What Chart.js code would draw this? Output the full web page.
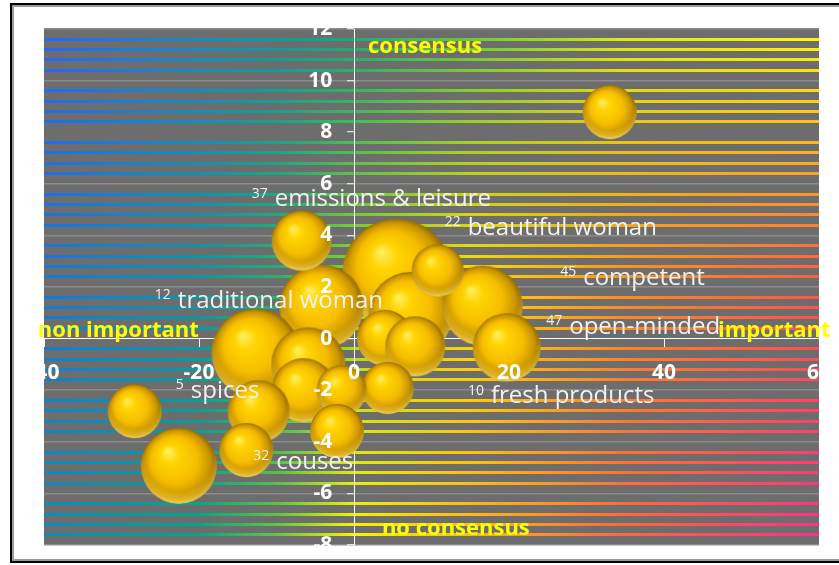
<!DOCTYPE html>
<html>
<head>
<meta charset="utf-8">
<script src="https://cdn.jsdelivr.net/npm/chart.js@4.4.1/dist/chart.umd.min.js"></script>
<style>
html, body { margin: 0; padding: 0; background: #fff; }
#wrap { width: 839px; height: 565px; }
</style>
</head>
<body>
<div id="wrap"><canvas id="chart" width="839" height="565"></canvas></div>
<script>
// bubbles: x = importance, y = consensus, r = bubble radius
const bubbleX = [5.5, -4.2, 7.3, 16.6, 10.8, 19.7, 4.0, 7.9, 4.35, -12.7, -5.9, -6.5, -1.6, -2.2, -12.3, -13.9, -6.75, -28.3, -22.6, 33.0];
const bubbleY = [2.55, 1.24, 0.96, 1.28, 2.64, -0.34, 0.03, -0.3, -1.91, -0.55, -1.0, -2.0, -2.0, -3.58, -2.82, -4.32, 3.8, -2.81, -4.93, 8.78];
const bubbleR = [54, 42, 42, 40, 26, 34, 28, 30, 26, 44, 37, 32, 25, 27, 31, 27, 30, 27, 38, 27];

const xTicks = [-40, -20, 0, 20, 40, 60];
const yTicks = [-8, -6, -4, -2, 0, 2, 4, 6, 8, 10, 12];

// data labels: small code + name, anchored in data units
const labelCodes = ['37', '22', '45', '12', '47', '5', '10', '32'];
const labelNames = ['emissions & leisure', 'beautiful woman', 'competent', 'traditional woman', 'open-minded', 'spices', 'fresh products', 'couses'];
const labelX = [-13.2, 11.7, 26.6, -25.7, 24.8, -23.0, 14.7, -13.0];
const labelY = [5.39, 4.27, 2.33, 1.47, 0.43, -2.02, -2.25, -4.77];

// quadrant captions
const cornerTexts = ['consensus', 'no consensus', 'non important', 'important'];
const cornerX = [1.8, 3.6, -40.8, 61.5];
const cornerY = [11.3, -7.37, 0.3, 0.3];
const cornerAlign = ['left', 'left', 'left', 'right'];

// stripes every 0.4 between the main grid lines
const stripeTicks = [];
for (let i = 0; i <= 50; i++) stripeTicks.push(Math.round((-8 + i * 0.4) * 10) / 10);

// stripe colours along a row, for the top, middle and bottom rows
const stopPos = [0, 0.2, 0.3, 0.4, 0.55, 0.75, 1];
const topStops = [[40,100,255],[20,140,200],[10,155,160],[20,170,120],[100,200,60],[220,240,10],[255,255,0]];
const midStops = [[20,120,220],[10,150,170],[40,175,110],[150,215,30],[255,220,0],[255,140,30],[255,85,70]];
const botStops = [[10,140,190],[0,170,130],[100,200,60],[255,245,0],[255,180,20],[255,100,60],[255,45,140]];

function isMajor(v) {
    return Math.abs(v / 2 - Math.round(v / 2)) < 1e-6;
}

function mix(a, b, t) {
    return a.map((v, k) => Math.round(v + (b[k] - v) * t));
}

function stripeColor(context) {
    const v = context.tick.value;
    const chart = context.chart;
    const area = chart.chartArea;
    if (!area) return 'rgba(0,0,0,0)';
    if (isMajor(v)) {
        if (v === 8 || v === 0) return 'rgba(0,0,0,0)';
        return '#8c8c8c';
    }
    const py = context.scale.getPixelForValue(v);
    const f = (py - area.top) / (area.bottom - area.top);
    const g = chart.ctx.createLinearGradient(area.left, 0, area.right, 0);
    stopPos.forEach((p, i) => {
        const c = f < 0.5 ? mix(topStops[i], midStops[i], f * 2) : mix(midStops[i], botStops[i], f * 2 - 1);
        g.addColorStop(p, 'rgb(' + c.join(',') + ')');
    });
    return g;
}

// golden ball sprite, one per radius
const ballCache = {};
function makeBall(r) {
    if (ballCache[r]) return ballCache[r];
    const size = Math.ceil(r * 2 + 2);
    const cv = document.createElement('canvas');
    cv.width = size;
    cv.height = size;
    const c = cv.getContext('2d');
    const cx = size / 2, cy = size / 2;
    c.beginPath();
    c.arc(cx, cy, r, 0, Math.PI * 2);
    c.closePath();
    const g = c.createRadialGradient(cx - 0.3 * r, cy - 0.4 * r, 0, cx, cy, r * 1.02);
    g.addColorStop(0, '#fff06a');
    g.addColorStop(0.25, '#ffd400');
    g.addColorStop(0.6, '#f6bd00');
    g.addColorStop(0.85, '#c99500');
    g.addColorStop(1, '#8a6400');
    c.fillStyle = g;
    c.fill();
    // light rim at the bottom
    c.save();
    c.clip();
    const rim = c.createRadialGradient(cx, cy - 0.22 * r, r * 0.9, cx, cy - 0.22 * r, r * 1.22);
    rim.addColorStop(0, 'rgba(255,214,70,0)');
    rim.addColorStop(0.6, 'rgba(255,214,70,0.55)');
    rim.addColorStop(1, 'rgba(255,226,110,0.9)');
    c.fillStyle = rim;
    c.fillRect(0, 0, size, size);
    c.restore();
    ballCache[r] = cv;
    return cv;
}

// keep edge tick labels from shrinking the plot area
function noPadding(scale) {
    scale.paddingLeft = 0;
    scale.paddingRight = 0;
    scale.paddingTop = 0;
    scale.paddingBottom = 0;
}

const framePlugin = {
    id: 'frame',
    beforeDraw(chart) {
        const ctx = chart.ctx;
        const a = chart.chartArea;
        ctx.save();
        ctx.fillStyle = '#ffffff';
        ctx.fillRect(0, 0, chart.width, chart.height);
        ctx.strokeStyle = '#000000';
        ctx.lineWidth = 2;
        ctx.strokeRect(11, 4, chart.width + 20, 558);
        ctx.strokeStyle = '#9a9a9a';
        ctx.strokeRect(13, 6, chart.width + 20, 554);
        ctx.fillStyle = '#6d6d6d';
        ctx.fillRect(a.left, a.top, a.right - a.left, a.bottom - a.top);
        ctx.restore();
    }
};

const textPlugin = {
    id: 'texts',
    afterDraw(chart) {
        const ctx = chart.ctx;
        const xs = chart.scales.x;
        const ys = chart.scales.y;
        ctx.save();
        ctx.textBaseline = 'middle';
        labelNames.forEach((name, i) => {
            const px = xs.getPixelForValue(labelX[i]);
            const py = ys.getPixelForValue(labelY[i]);
            ctx.fillStyle = '#f2f2f2';
            ctx.textAlign = 'left';
            ctx.font = '14px "Open Sans"';
            ctx.fillText(labelCodes[i], px, py - 6);
            const w = ctx.measureText(labelCodes[i]).width;
            ctx.font = '24px "Open Sans"';
            ctx.fillText(name, px + w + 7, py);
        });
        ctx.fillStyle = '#ffff00';
        ctx.font = 'bold 22px "Open Sans"';
        cornerTexts.forEach((t, i) => {
            ctx.textAlign = cornerAlign[i];
            ctx.fillText(t, xs.getPixelForValue(cornerX[i]), ys.getPixelForValue(cornerY[i]));
        });
        ctx.restore();
    }
};

const tickFont = { family: 'Open Sans', size: 21, weight: 'bold' };

new Chart(document.getElementById('chart'), {
    type: 'bubble',
    data: {
        datasets: [{
            data: bubbleX.map((x, i) => ({ x: x, y: bubbleY[i], r: bubbleR[i] })),
            pointStyle: c => makeBall(c.raw.r),
            backgroundColor: '#f5c000',
            borderWidth: 0,
            hoverBorderWidth: 0
        }]
    },
    options: {
        responsive: false,
        animation: false,
        events: [],
        layout: { autoPadding: false, padding: { left: 44, right: 20, top: 29, bottom: 20 } },
        plugins: { legend: { display: false }, tooltip: { enabled: false } },
        scales: {
            x: {
                type: 'linear', min: -40, max: 60, position: { y: 0 },
                afterBuildTicks: scale => { scale.ticks = xTicks.map(v => ({ value: v })); },
                afterFit: noPadding,
                ticks: { display: false },
                grid: { drawOnChartArea: false, drawTicks: true, tickLength: 9, tickColor: '#ffffff', lineWidth: 1 },
                border: { color: '#ffffff', width: 1 }
            },
            y: {
                type: 'linear', min: -8, max: 12, position: { x: 0 },
                afterBuildTicks: scale => { scale.ticks = stripeTicks.map(v => ({ value: v })); },
                afterFit: noPadding,
                ticks: { display: false },
                grid: {
                    color: stripeColor,
                    lineWidth: c => isMajor(c.tick.value) ? 1.5 : 3,
                    drawTicks: true,
                    tickLength: 7,
                    tickColor: c => isMajor(c.tick.value) ? '#ffffff' : 'rgba(0,0,0,0)',
                    tickWidth: 1
                },
                border: { color: '#ffffff', width: 1 }
            },
            x2: {
                type: 'linear', axis: 'x', min: -40, max: 60, position: { y: 0 },
                afterBuildTicks: scale => { scale.ticks = xTicks.map(v => ({ value: v })); },
                afterFit: noPadding,
                ticks: { z: 1, color: '#ffffff', font: tickFont, padding: 22, maxRotation: 0, autoSkip: false },
                grid: { display: false, drawTicks: false },
                border: { display: false }
            },
            y2: {
                // label column sits a little left of the y axis line
                type: 'linear', axis: 'y', min: -8, max: 12, position: { x: -2.8 },
                afterBuildTicks: scale => { scale.ticks = yTicks.map(v => ({ value: v })); },
                afterFit: noPadding,
                ticks: { z: 1, color: '#ffffff', font: tickFont, padding: 0, autoSkip: false },
                grid: { display: false, drawTicks: false },
                border: { display: false }
            }
        }
    },
    plugins: [framePlugin, textPlugin]
});
</script>
</body>
</html>
